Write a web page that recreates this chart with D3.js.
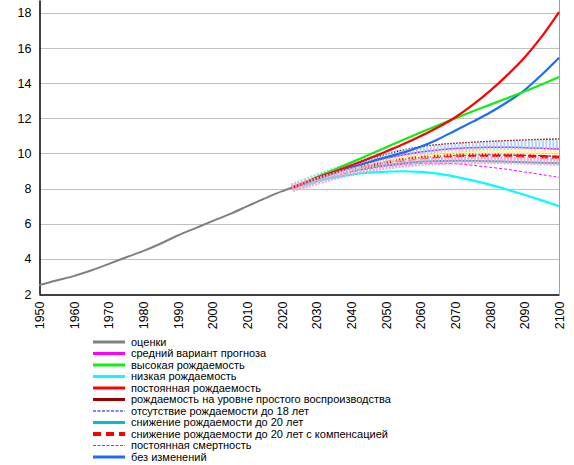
<!DOCTYPE html>
<html>
<head>
<meta charset="utf-8">
<script src="https://cdn.jsdelivr.net/npm/d3@7"></script>
<style>
  body { margin: 0; background: #fff; }
  text { font-family: Arial, "Liberation Sans", sans-serif; fill: #000; }
</style>
</head>
<body>
<div id="chart"></div>
<script>
  // estimates 1950-2023
  var estYears = [1950, 1955, 1960, 1965, 1970, 1975, 1980, 1985, 1990, 1995, 2000, 2005, 2010, 2015, 2020, 2023];
  var estimates = [2.50, 2.77, 3.02, 3.34, 3.70, 4.08, 4.44, 4.86, 5.33, 5.74, 6.15, 6.55, 6.99, 7.43, 7.84, 8.05];

  // projections 2023-2100
  var projYears = [2023, 2025, 2030, 2035, 2040, 2045, 2050, 2055, 2060, 2065, 2070, 2075, 2080, 2085, 2090, 2095, 2100];
  var medium       = [8.05, 8.19, 8.55, 8.88, 9.19, 9.46, 9.71, 9.92, 10.08, 10.20, 10.28, 10.33, 10.35, 10.35, 10.33, 10.30, 10.25];
  var high         = [8.05, 8.21, 8.65, 9.06, 9.48, 9.91, 10.34, 10.77, 11.19, 11.60, 12.00, 12.39, 12.77, 13.15, 13.53, 13.93, 14.35];
  var low          = [8.05, 8.16, 8.42, 8.63, 8.80, 8.91, 8.96, 8.99, 8.95, 8.85, 8.68, 8.47, 8.23, 7.95, 7.65, 7.33, 7.00];
  var constFert    = [8.05, 8.20, 8.60, 8.95, 9.32, 9.70, 10.10, 10.52, 10.98, 11.48, 12.05, 12.75, 13.55, 14.45, 15.45, 16.65, 18.05];
  var replacement  = [8.05, 8.20, 8.58, 8.95, 9.30, 9.65, 9.95, 10.20, 10.38, 10.50, 10.58, 10.64, 10.69, 10.73, 10.77, 10.80, 10.83];
  var noBirths18   = [8.05, 8.18, 8.50, 8.80, 9.08, 9.30, 9.50, 9.65, 9.76, 9.84, 9.89, 9.92, 9.93, 9.92, 9.90, 9.87, 9.84];
  var reduce20     = [8.05, 8.17, 8.48, 8.75, 9.00, 9.18, 9.33, 9.45, 9.53, 9.57, 9.59, 9.58, 9.56, 9.53, 9.50, 9.47, 9.44];
  var reduce20comp = [8.05, 8.18, 8.50, 8.80, 9.07, 9.30, 9.50, 9.65, 9.76, 9.83, 9.88, 9.90, 9.90, 9.89, 9.86, 9.82, 9.78];
  var constMort    = [8.05, 8.17, 8.45, 8.72, 8.95, 9.13, 9.27, 9.37, 9.43, 9.45, 9.42, 9.33, 9.22, 9.10, 8.95, 8.80, 8.64];
  var noChange     = [8.05, 8.20, 8.55, 8.88, 9.20, 9.50, 9.78, 10.05, 10.38, 10.80, 11.30, 11.80, 12.32, 12.92, 13.60, 14.48, 15.45];

  // probabilistic marker bands (not in legend)
  var bandBlue   = [8.05, 8.20, 8.58, 8.95, 9.25, 9.55, 9.80, 9.98, 10.12, 10.22, 10.30, 10.36, 10.41, 10.45, 10.48, 10.50, 10.52];
  var bandYellow = [8.05, 8.18, 8.52, 8.84, 9.12, 9.35, 9.55, 9.72, 9.85, 9.95, 10.02, 10.06, 10.08, 10.09, 10.08, 10.06, 10.02];
  var bandPink   = [8.05, 8.15, 8.42, 8.70, 8.95, 9.15, 9.30, 9.42, 9.50, 9.56, 9.60, 9.62, 9.62, 9.61, 9.59, 9.56, 9.52];

  var yTicks = [2, 4, 6, 8, 10, 12, 14, 16, 18];
  var xTicks = [1950, 1960, 1970, 1980, 1990, 2000, 2010, 2020, 2030, 2040, 2050, 2060, 2070, 2080, 2090, 2100];

  var legendLabels = [
    'оценки',
    'средний вариант прогноза',
    'высокая рождаемость',
    'низкая рождаемость',
    'постоянная рождаемость',
    'рождаемость на уровне простого воспроизводства',
    'отсутствие рождаемости до 18 лет',
    'снижение рождаемости до 20 лет',
    'снижение рождаемости до 20 лет с компенсацией',
    'постоянная смертность',
    'без изменений'
  ];

  var width = 574, height = 465,
      plotLeft = 39, plotRight = 559, plotTop = 0, plotBottom = 294;

  var x = d3.scaleLinear().domain([1950, 2100]).range([plotLeft, plotRight]);
  var y = d3.scaleLinear().domain([2, 18.74]).range([plotBottom, plotTop]);

  var svg = d3.select('#chart')
    .append('svg')
    .attr('width', width)
    .attr('height', height);

  // grid
  svg.append('g')
    .selectAll('line')
    .data(yTicks.slice(1))
    .enter().append('line')
    .attr('x1', plotLeft).attr('x2', plotRight)
    .attr('y1', function(d) { return Math.round(y(d)) + 0.5; })
    .attr('y2', function(d) { return Math.round(y(d)) + 0.5; })
    .attr('stroke', '#c0c0c0')
    .attr('stroke-width', 1);

  // right border
  svg.append('line')
    .attr('x1', plotRight + 0.5).attr('x2', plotRight + 0.5)
    .attr('y1', plotTop).attr('y2', plotBottom)
    .attr('stroke', '#a0a0a0');

  // axes
  var yAxis = d3.axisLeft(y).tickValues(yTicks).tickSize(0).tickPadding(8);
  var gy = svg.append('g')
    .attr('transform', 'translate(' + (plotLeft + 0.5) + ',0)')
    .call(yAxis);
  gy.select('.domain').attr('stroke', '#000').attr('stroke-width', 1.5);
  gy.selectAll('text').attr('font-size', '12.5px').attr('font-family', 'Arial, "Liberation Sans", sans-serif');

  var xAxis = d3.axisBottom(x).tickValues(xTicks).tickSize(0).tickFormat(d3.format('d'));
  var gx = svg.append('g')
    .attr('transform', 'translate(0,' + (plotBottom + 0.5) + ')')
    .call(xAxis);
  gx.select('.domain').attr('stroke', '#000').attr('stroke-width', 1.5);
  gx.selectAll('text')
    .attr('font-size', '12.5px')
    .attr('font-family', 'Arial, "Liberation Sans", sans-serif')
    .attr('transform', 'rotate(-90)')
    .attr('text-anchor', 'end')
    .attr('x', -7)
    .attr('y', 0)
    .attr('dy', '0.35em');

  /**
   * Draws one series as a path.
   */
  function series(years, values, color, w, dash, opacity) {
    var line = d3.line()
      .x(function(d, i) { return x(years[i]); })
      .y(function(d) { return y(d); })
      .curve(d3.curveMonotoneX);
    svg.append('path')
      .datum(values)
      .attr('d', line)
      .attr('fill', 'none')
      .attr('stroke', color)
      .attr('stroke-width', w)
      .attr('stroke-dasharray', dash || null)
      .attr('stroke-opacity', opacity || 1);
  };

  // lines hidden inside the band first
  series(projYears, medium, '#ff00ff', 1.5);
  series(projYears, replacement, '#990000', 1.5, '1.5,1.5');
  series(projYears, noBirths18, '#0000ff', 1.2, '3,2');
  series(projYears, reduce20comp, '#ff0000', 3.5, '8,4');
  series(projYears, reduce20, '#00b8c8', 2);
  series(projYears, constMort, '#ff00ff', 1, '3,2');

  // marker bands
  series(projYears, bandBlue, '#9ccff2', 9, '2,1.5', 0.85);
  series(projYears, bandYellow, '#faf38c', 5, '2,1.2', 0.9);

  // main variants
  series(projYears, low, '#00ffff', 2.2);
  series(projYears, noChange, '#1a6bff', 2.2);
  series(projYears, high, '#11ee11', 2.2);
  series(projYears, constFert, '#ff0000', 2.2);

  series(projYears, bandPink, '#f79fd2', 8, '2,1.3', 0.9);
  series(estYears, estimates, '#808080', 2);

  // legend
  var legendStyles = [
    { c: '#808080', w: 3 },
    { c: '#ff00ff', w: 3 },
    { c: '#11ee11', w: 3 },
    { c: '#00ffff', w: 3 },
    { c: '#ff0000', w: 3 },
    { c: '#990000', w: 3 },
    { c: '#0000ff', w: 1, d: '3,1.5' },
    { c: '#00c0c8', w: 3 },
    { c: '#ff0000', w: 4, d: '8,5' },
    { c: '#ff00ff', w: 1, d: '3,1.5' },
    { c: '#1a6bff', w: 3 }
  ];

  var legend = svg.append('g');
  var rows = legend.selectAll('g')
    .data(legendLabels)
    .enter().append('g')
    .attr('transform', function(d, i) { return 'translate(0,' + (342 + i * 11.5) + ')'; });

  rows.append('line')
    .attr('x1', 93).attr('x2', 125)
    .attr('y1', 0).attr('y2', 0)
    .attr('stroke', function(d, i) { return legendStyles[i].c; })
    .attr('stroke-width', function(d, i) { return legendStyles[i].w; })
    .attr('stroke-dasharray', function(d, i) { return legendStyles[i].d || null; });

  rows.append('text')
    .attr('x', 131)
    .attr('dy', '0.35em')
    .attr('font-size', '11px')
    .text(function(d) { return d; });
</script>
</body>
</html>
